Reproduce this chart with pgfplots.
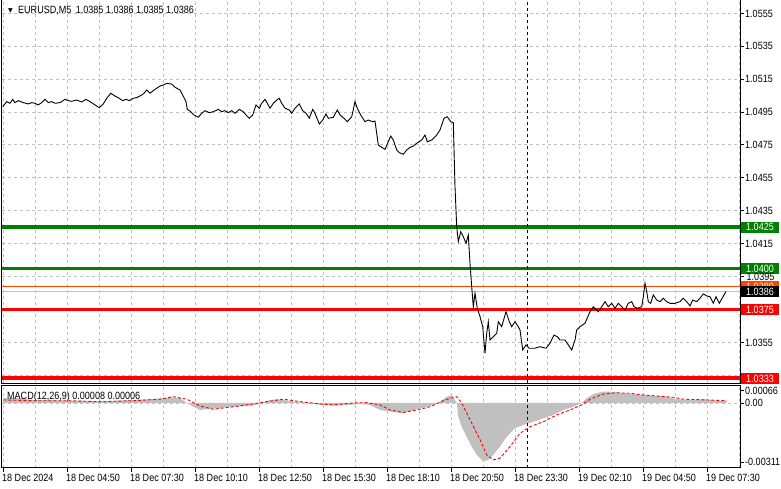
\documentclass[border=0pt]{standalone}
\usepackage{pgfplots}
\pgfplotsset{compat=1.18}
\usepackage{fontspec}
\setmainfont{Liberation Sans}[FakeStretch=0.86]
\newfontfamily\symfont{DejaVu Sans}

\definecolor{mtgreen}{RGB}{0,128,0}
\definecolor{mtorange}{RGB}{255,69,0}
\definecolor{mtgrid}{RGB}{192,192,192}
\definecolor{mthist}{RGB}{192,192,192}

\tikzset{
  lvl/.style={anchor=west, text=white, inner xsep=5pt, inner ysep=0pt,
    minimum height=11pt, text height=7.5pt, text depth=0pt},
  plain/.style={anchor=west, inner sep=0pt, text height=7.5pt, text depth=0pt},
}

\begin{document}
\begin{tikzpicture}[font=\fontsize{10.5}{12}\selectfont]
\useasboundingbox (0pt,0pt) rectangle (781pt,489pt);
\pgfplotsset{
  mtpanel/.style={
    scale only axis, width=738pt, xmin=2, xmax=740,
    anchor=south west,
    axis line style={line width=1pt},
    tick align=outside, ytick pos=right,
    major tick length=4pt, minor tick length=0pt,
    tick style={black, line width=0.8pt},
    ticklabel style={font=\fontsize{10.5}{12}\selectfont, text height=7.5pt, text depth=0pt},
    scaled y ticks=false,
    xtick={3,67,...,707},
    minor xtick={35,99,...,739},
    xmajorgrids, xminorgrids,
    major grid style={mtgrid, line width=0.8pt, dash pattern=on 3pt off 3pt},
    minor grid style={mtgrid, line width=0.8pt, dash pattern=on 3pt off 3pt},
    yticklabel style={anchor=west, inner sep=0pt, xshift=1pt},
    clip mode=individual,
  },
}

% price panel
\begin{axis}[mtpanel, at={(2pt,105.5pt)}, height=383.5pt,
  ymin=1.032995, ymax=1.056309,
  xticklabels=\empty, xtick style={draw=none},
  ytick={1.0335,1.0355,1.0375,1.0395,1.0415,1.0435,1.0455,1.0475,1.0495,1.0515,1.0535,1.0555},
  yticklabels={,1.0355,,,1.0415,1.0435,1.0455,1.0475,1.0495,1.0515,1.0535,1.0555},
  ymajorgrids,
]
\addplot[mtgreen, line width=4pt] coordinates {(2,1.0425) (740,1.0425)};
\addplot[mtgreen, line width=2.5pt] coordinates {(2,1.0400) (740,1.0400)};
\addplot[mtorange, line width=1pt] coordinates {(2,1.0389) (740,1.0389)};
\addplot[mtgrid, line width=1pt] coordinates {(2,1.0386) (740,1.0386)};
\addplot[red, line width=2.5pt] coordinates {(2,1.0375) (740,1.0375)};
\addplot[red, line width=4pt] coordinates {(2,1.0333) (740,1.0333)};
\addplot[black, line width=0.8pt, dash pattern=on 3pt off 3pt] coordinates {(527,1.032995) (527,1.056309)};

\addplot[black, line width=0.9pt] coordinates {
(2.7,1.04982)(6.7,1.05013)(10,1.05003)(12.7,1.05027)(15,1.05007)(18.3,1.05019)
(23.3,1.05007)(28.3,1.04999)(31.7,1.05007)(35,1.05003)(38.3,1.04993)(41.7,1.05007)
(45,1.05027)(48.3,1.05007)(51.7,1.05013)(55,1.05003)(60,1.05007)(65,1.05027)
(68.3,1.05019)(71.7,1.05015)(76.7,1.05023)(81.7,1.05011)(86,1.05027)(90,1.05013)
(95,1.04993)(99.3,1.04976)(103.3,1.04999)(106.7,1.05033)(110.7,1.05064)(115,1.05047)
(119.3,1.05033)(122.7,1.05019)(126,1.05027)(129.3,1.05019)(133.3,1.05033)(137.3,1.05039)
(141.7,1.05053)(144,1.05064)(146.7,1.05084)(150,1.05064)(153.3,1.05080)(156.7,1.05094)
(160,1.05108)(163.3,1.05114)(166.7,1.05124)(171.7,1.05120)(175,1.05100)(180,1.05084)
(182.7,1.05053)(186,1.05013)(187.3,1.04966)(190.7,1.04952)(194,1.04932)(198.3,1.04918)
(201.7,1.04942)(205,1.04958)(209.3,1.04946)(213.3,1.04952)(218.3,1.04966)(221.7,1.04952)
(225,1.04958)(228.3,1.04946)(231.7,1.04958)(235,1.04942)(239.3,1.04966)(243.3,1.04952)
(246,1.04932)(249.3,1.04912)(252.7,1.04932)(256,1.04993)(259.3,1.04973)(261.7,1.05003)
(265,1.05027)(267.3,1.05003)(270,1.04973)(273.3,1.05003)(276.7,1.05023)(279.3,1.05033)
(281.7,1.05003)(285,1.04973)(289.3,1.04962)(291.7,1.04942)(295,1.04973)(299.3,1.04999)
(302.7,1.04958)(306,1.04942)(309.3,1.04912)(312.7,1.04966)(315,1.04942)(319.3,1.04877)
(322.7,1.04901)(326,1.04938)(328.3,1.04912)(333.3,1.04918)(337.3,1.04962)(340,1.04932)
(344,1.04912)(347.3,1.04891)(351.7,1.04921)(355,1.05013)(357.3,1.04973)(360.7,1.04932)
(365,1.04891)(368.3,1.04901)(372.7,1.04891)(375,1.04895)(376.7,1.04821)(378.3,1.04749)
(381.7,1.04735)(385,1.04723)(388.3,1.04769)(390.7,1.04804)(393.3,1.04780)(396.7,1.04719)
(399.3,1.04703)(403.3,1.04693)(406.7,1.04719)(410,1.04735)(413.3,1.04743)(416.7,1.04760)
(421.7,1.04780)(425,1.04810)(427.3,1.04769)(431.7,1.04780)(436.7,1.04810)(440,1.04841)
(444,1.04912)(447.3,1.04921)(450.7,1.04891)(453.3,1.04885)(455,1.04496)(456.7,1.04253)
(458.3,1.04162)(460.7,1.04222)(463.3,1.04192)(466,1.04152)(468.3,1.04202)(470,1.04030)
(471.7,1.03888)(473.3,1.03766)(475,1.03848)(477.3,1.03757)(480,1.03706)(482.7,1.03645)
(485,1.03483)(486.7,1.03605)(488.3,1.03675)(490,1.03564)(493.3,1.03584)(496.7,1.03605)
(498.3,1.03675)(501.7,1.03645)(506,1.03736)(509.3,1.03675)(511.7,1.03645)(515,1.03675)
(518.3,1.03645)(520,1.03625)(522.7,1.03503)(526,1.03534)(529.3,1.03514)(535,1.03514)
(540,1.03523)(546,1.03514)(550,1.03544)(554,1.03594)(557.3,1.03584)(560,1.03564)
(565,1.03564)(568.3,1.03534)(571.7,1.03503)(575,1.03564)(576.7,1.03625)(580,1.03645)
(585,1.03666)(590,1.03736)(593.3,1.03766)(598.3,1.03736)(601.7,1.03766)(605,1.03797)
(608.3,1.03766)(611.7,1.03787)(615,1.03757)(618.3,1.03787)(621.7,1.03766)(625,1.03746)
(628.3,1.03787)(631.7,1.03797)(634,1.03766)(637.3,1.03757)(641.7,1.03766)(643.3,1.03827)
(645,1.03909)(646.7,1.03858)(648.3,1.03797)(650.7,1.03787)(653.3,1.03838)(656.7,1.03807)
(660,1.03797)(663.3,1.03818)(666.7,1.03797)(670,1.03787)(675,1.03787)(680,1.03797)
(683.3,1.03818)(686.7,1.03797)(690,1.03771)(692.7,1.03807)(696.7,1.03797)(700,1.03818)
(703.3,1.03844)(706.7,1.03832)(710,1.03827)(713.3,1.03787)(716,1.03827)(719.3,1.03787)
(722.7,1.03824)(726,1.03858)
};

\node[anchor=west, inner sep=0pt, xshift=6pt, yshift=-10.5pt] at (axis description cs:0,1)
  {\symfont\fontsize{6}{6}\selectfont ▼};
\node[plain, xshift=16pt, yshift=-10pt]
  at (axis description cs:0,1) {EURUSD,M5\hspace{4.5pt}1.0385 1.0386 1.0385 1.0386};

\node[lvl, fill=mtgreen] at (axis cs:741,1.0425) {1.0425};
\node[lvl, fill=mtgreen] at (axis cs:741,1.0400) {1.0400};
\node[plain] at (axis cs:746.5,1.0395) {1.0395};
\node[lvl, fill=mtorange] at (axis cs:741,1.0389) {1.0389};
\node[lvl, fill=black] at (axis cs:741,1.0386) {1.0386};
\node[lvl, fill=red] at (axis cs:741,1.0375) {1.0375};
\node[lvl, fill=red] at (axis cs:741,1.0333) {1.0333};
\end{axis}

% MACD panel
\begin{axis}[mtpanel, at={(2pt,21pt)}, height=82pt,
  ymin=-0.00343, ymax=0.000896,
  ytick={-0.00311,0,0.00066}, yticklabels={-0.00311,0.00,0.00066},
  xtick pos=bottom,
  xticklabels={18 Dec 2024,18 Dec 04:50,18 Dec 07:30,18 Dec 10:10,18 Dec 12:50,18 Dec 15:30,
    18 Dec 18:10,18 Dec 20:50,18 Dec 23:30,19 Dec 02:10,19 Dec 04:50,19 Dec 07:30},
  xticklabel style={anchor=north west, inner sep=0pt, xshift=-1pt, yshift=-2pt},
]
\addplot[mtgrid, line width=0.8pt, dash pattern=on 3pt off 3pt] coordinates {(2,0) (740,0)};
\addplot[fill=mthist, draw=none] coordinates {
(3.3,0)(3.3,0.00025)(20,0.00025)(33.3,0.00016)(50,0.00016)(66.7,0.00012)(83.3,0.00012)
(100,0.00007)(116.7,0.00012)(133.3,0.00016)(150,0.0002)(163.3,0.00025)(170,0.0003)
(180,0.00025)(186.7,0)(193.3,-0.0002)(200,-0.00037)(206.7,-0.00033)(216.7,-0.00028)
(233.3,-0.0002)(250,-0.00016)(260,-0.00005)(266.7,0.00012)(276.7,0.0002)(283.3,0.00016)
(293.3,0.00007)(306.7,0.00002)(320,-0.0001)(333.3,-0.00014)(350,-0.0001)(360,-0.00005)
(370,-0.0001)(380,-0.00037)(390,-0.00045)(403.3,-0.00054)(416.7,-0.00033)(430,-0.00016)
(440,0.00007)(446.7,0.00033)(451.7,0.00042)(454,0.00025)(456.7,0)(458.3,-0.00072)
(461.7,-0.00125)(466.7,-0.00178)(471.7,-0.0023)(476.7,-0.00274)(483.3,-0.00309)
(488.3,-0.003)(493.3,-0.00274)(500,-0.0023)(506.7,-0.00178)(515,-0.00133)(523.3,-0.00116)
(533.3,-0.00099)(543.3,-0.00081)(553.3,-0.00063)(563.3,-0.00037)(573.3,-0.0002)
(581.7,0)(586.7,0.00025)(593.3,0.00047)(603.3,0.0006)(610,0.0006)(620,0.00054)
(633.3,0.00047)(643.3,0.00042)(656.7,0.00037)(666.7,0.00033)(676.7,0.0002)(690,0.00016)
(703.3,0.0002)(716.7,0.00012)(726.7,0.00012)(726.7,0)
};
\addplot[red, line width=0.9pt, dash pattern=on 3pt off 2pt] coordinates {
(3.3,0.00016)(33.3,0.00012)(66.7,0.00012)(100,0.00007)(133.3,0.00012)(160,0.0002)
(173.3,0.00033)(186.7,0.0002)(200,-0.00016)(213.3,-0.00033)(233.3,-0.0002)(253.3,-0.00005)
(266.7,0.00007)(283.3,0.0002)(300,0.00007)(320,-0.00005)(333.3,-0.0001)(353.3,0)
(366.7,0.00002)(380,-0.0001)(390,-0.00037)(403.3,-0.0005)(416.7,-0.00037)(430,-0.0002)
(443.3,0.00012)(450,0.00025)(456.7,0.00033)(461.7,0)(470,-0.00088)(480,-0.00193)
(486.7,-0.00274)(493.3,-0.003)(500,-0.00291)(510,-0.0023)(520,-0.0016)(530,-0.00125)
(543.3,-0.00099)(556.7,-0.00063)(570,-0.00037)(581.7,-0.0001)(590,0.0002)(603.3,0.00047)
(616.7,0.00054)(630,0.00051)(643.3,0.00042)(656.7,0.00037)(673.3,0.0003)(683.3,0.0002)
(706.7,0.00016)(726.7,0.00012)
};
\addplot[black, line width=0.8pt, dash pattern=on 3pt off 3pt] coordinates {(527,-0.00343) (527,0.000896)};
\node[plain, xshift=5pt, yshift=-10pt]
  at (axis description cs:0,1) {MACD(12,26,9) 0.00008 0.00006};
\end{axis}
\end{tikzpicture}
\end{document}
